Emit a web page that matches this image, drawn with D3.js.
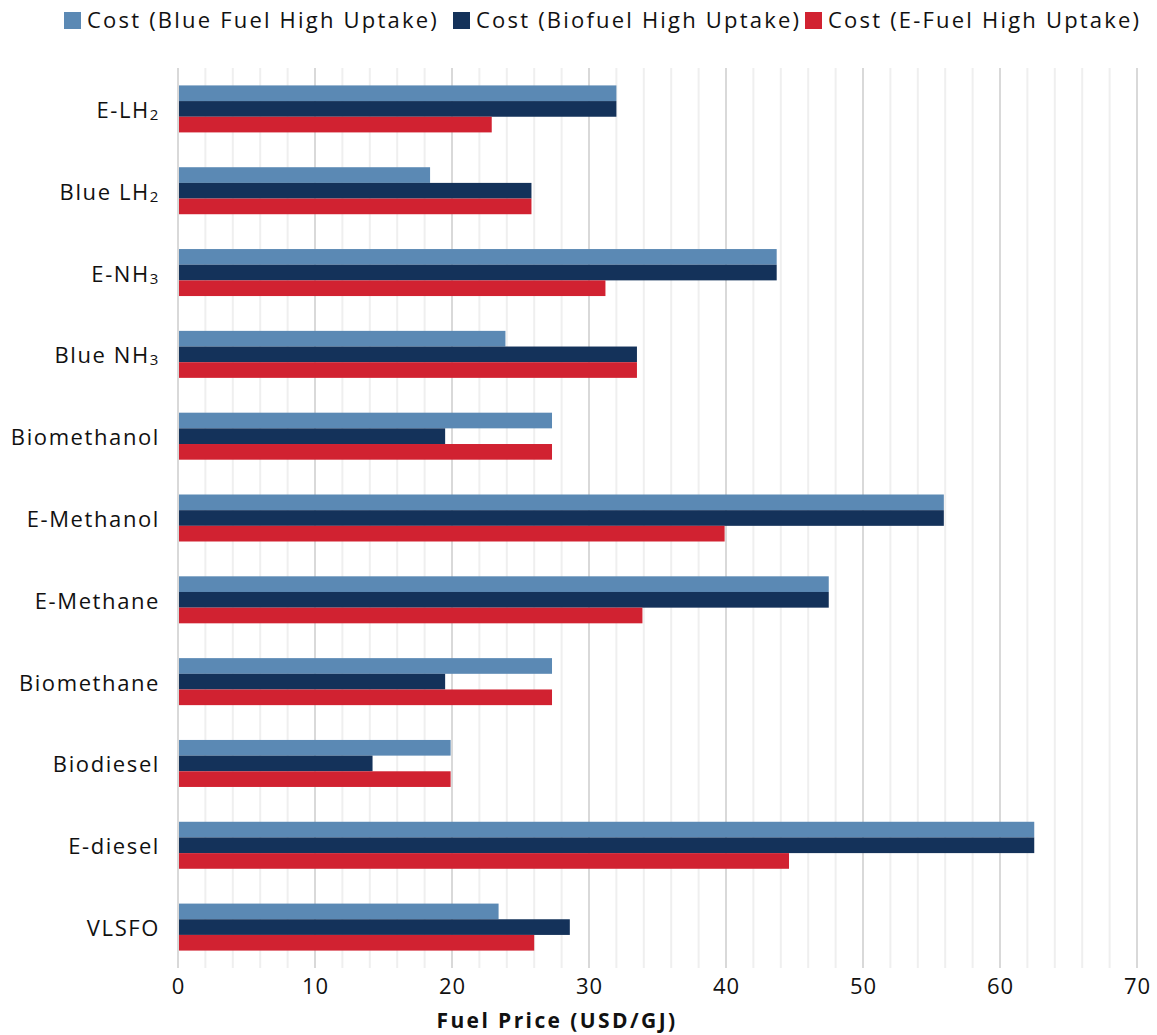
<!DOCTYPE html>
<html><head><meta charset="utf-8">
<script src="https://cdn.jsdelivr.net/npm/d3@7"></script>
<style>
body{margin:0;background:#fff;}
text{font-family:"Open Sans",sans-serif;fill:#111;}
</style></head>
<body><svg id="c" width="1157" height="1035"></svg>
<script>
const categories = [
  {base:"E-LH", sub:"2"},
  {base:"Blue LH", sub:"2"},
  {base:"E-NH", sub:"3"},
  {base:"Blue NH", sub:"3"},
  {base:"Biomethanol", sub:""},
  {base:"E-Methanol", sub:""},
  {base:"E-Methane", sub:""},
  {base:"Biomethane", sub:""},
  {base:"Biodiesel", sub:""},
  {base:"E-diesel", sub:""},
  {base:"VLSFO", sub:""}
];
const seriesNames = ["Cost (Blue Fuel High Uptake)","Cost (Biofuel High Uptake)","Cost (E-Fuel High Uptake)"];
const seriesColors = ["#5b89b4","#14325a","#d12231"];
const blueFuel = [32.0, 18.4, 43.7, 23.9, 27.3, 55.9, 47.5, 27.3, 19.9, 62.5, 23.4];
const bioFuel  = [32.0, 25.8, 43.7, 33.5, 19.5, 55.9, 47.5, 19.5, 14.2, 62.5, 28.6];
const eFuel    = [22.9, 25.8, 31.2, 33.5, 27.3, 39.9, 33.9, 27.3, 19.9, 44.6, 26.0];
const xTicks = [0,10,20,30,40,50,60,70];
const xTitle = "Fuel Price (USD/GJ)";

const svg = d3.select("#c");
const mLeft = 178, mRight = 1137, mTop = 68, mBottom = 968;
const x = d3.scaleLinear().domain([0,70]).range([mLeft,mRight]);
const keys = categories.map((d,i)=>i);
const y0 = d3.scaleBand().domain(keys).range([mTop,mBottom]).padding(0);
const grp = 47;
const y1 = d3.scaleBand().domain([0,1,2]).range([(y0.bandwidth()-grp)/2,(y0.bandwidth()+grp)/2]).padding(0);

// grid
const minor = d3.range(0,71,2);
svg.append("g").selectAll("line").data(minor).join("line")
  .attr("x1",d=>x(d)).attr("x2",d=>x(d))
  .attr("y1",mTop).attr("y2",mBottom)
  .attr("stroke",d=>d%10===0?"#d9d9d9":"#efefef")
  .attr("stroke-width",2);

// bars
const series = [blueFuel,bioFuel,eFuel];
const g = svg.append("g");
series.forEach((vals,s)=>{
  g.selectAll(null).data(vals).join("rect")
    .attr("x",x(0)+1)
    .attr("y",(d,i)=>y0(i)+y1(s))
    .attr("width",d=>x(d)-x(0)-1)
    .attr("height",y1.bandwidth())
    .attr("fill",seriesColors[s]);
});

// category labels
const cl = svg.append("g");
categories.forEach((c,i)=>{
  const t = cl.append("text")
    .attr("x",160).attr("y",y0(i)+y0.bandwidth()/2)
    .attr("text-anchor","end").attr("dominant-baseline","central")
    .attr("font-size",22).attr("letter-spacing",1.6);
  t.append("tspan").text(c.base);
  if(c.sub) t.append("tspan").attr("font-size",15).attr("dy",5).text(c.sub);
});

// x axis labels
const xa = d3.axisBottom(x).tickValues(xTicks).tickSize(0).tickPadding(0);
const ax = svg.append("g").attr("transform",`translate(0,${mBottom})`).call(xa);
ax.select(".domain").remove();
ax.selectAll("text").attr("font-size",22).attr("dy","1.2em").attr("letter-spacing",1)
  .style("font-family","Open Sans").attr("fill","#111");

svg.append("text").attr("x",557).attr("y",1028).attr("text-anchor","middle")
  .attr("font-size",21).attr("font-weight","bold").attr("letter-spacing",2.4).text(xTitle);

// legend
const legX = [64,453,805];
seriesNames.forEach((n,i)=>{
  svg.append("rect").attr("x",legX[i]).attr("y",12).attr("width",17).attr("height",17).attr("fill",seriesColors[i]);
  svg.append("text").attr("x",legX[i]+23).attr("y",28)
    .attr("font-size",22).attr("letter-spacing",2.2).text(n);
});
</script></body></html>
